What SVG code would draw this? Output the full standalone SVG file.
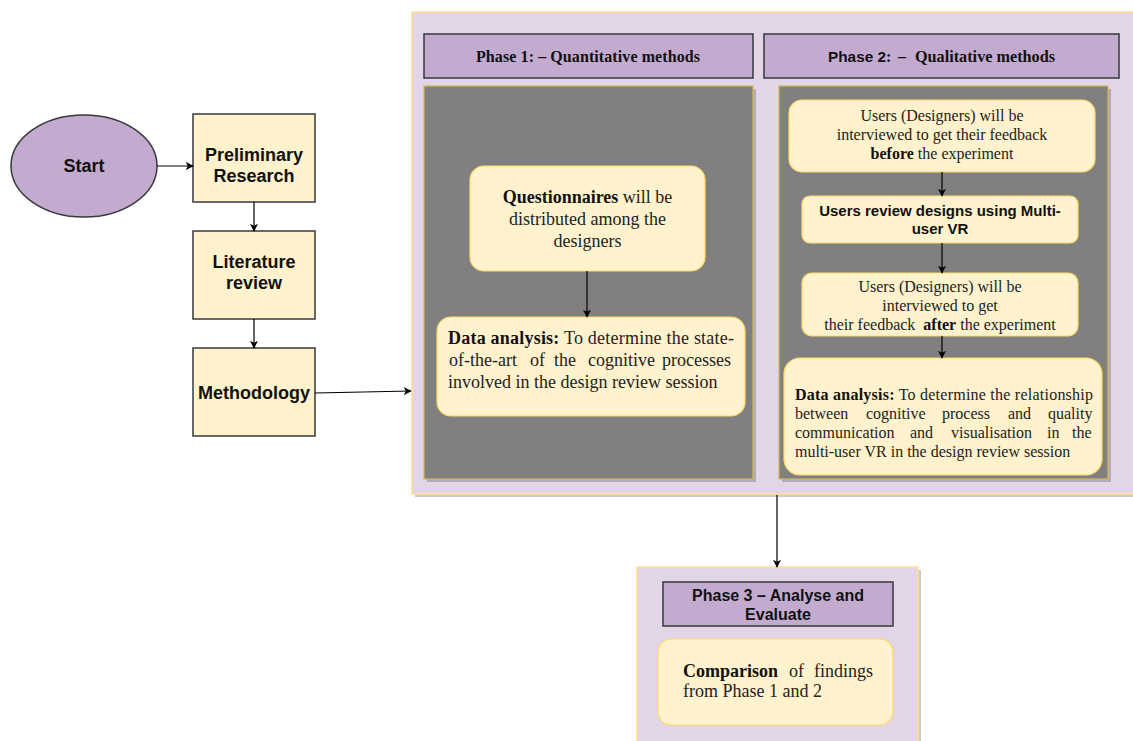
<svg xmlns="http://www.w3.org/2000/svg" width="1133" height="741" viewBox="0 0 1133 741">
<defs>
<marker id="arr" viewBox="0 0 10 10" refX="9" refY="5" markerWidth="8" markerHeight="8" markerUnits="userSpaceOnUse" orient="auto">
<path d="M0,0 L10,5 L0,10 L2.5,5 Z" fill="#000"/>
</marker>
<style>
.sans{font-family:"Liberation Sans",Arial,sans-serif;font-weight:bold;fill:#111;}
.serif{font-family:"Liberation Serif","Times New Roman",serif;fill:#222;}
.b{font-weight:bold;fill:#111;}
.step{fill:#FFF2CC;stroke:#36393d;stroke-width:1.5;}
.hdr{fill:#C3ABD0;stroke:#36393d;stroke-width:1.5;}
.outer{fill:#E1D5E7;stroke:#FFE08A;stroke-width:1.5;}
.panel{fill:#808080;stroke:#D6B656;stroke-width:1.2;}
.shadow{fill:#000;opacity:0.2;}
.note{fill:#FFF2CC;stroke:#FFD966;stroke-width:1.2;}
.conn{stroke:#000;stroke-width:1.2;fill:none;marker-end:url(#arr);}
</style>
</defs>
<rect width="1133" height="741" fill="#fff"/>

<g id="start">
<ellipse cx="84" cy="166" rx="73" ry="51" fill="#C3ABD0" stroke="#36393d" stroke-width="1.5"/>
<text class="sans" x="84" y="172" font-size="18" text-anchor="middle">Start</text>
</g>
<g id="preliminary">
<rect class="step" x="193" y="114" width="122" height="88"/>
<text class="sans" x="254" y="161" font-size="18" text-anchor="middle">Preliminary</text>
<text class="sans" x="254" y="182" font-size="18" text-anchor="middle">Research</text>
</g>
<g id="literature">
<rect class="step" x="193" y="231" width="122" height="88"/>
<text class="sans" x="254" y="268" font-size="18" text-anchor="middle">Literature</text>
<text class="sans" x="254" y="289" font-size="18" text-anchor="middle">review</text>
</g>
<g id="methodology">
<rect class="step" x="193" y="348" width="122" height="88"/>
<text class="sans" x="254" y="399" font-size="18" text-anchor="middle">Methodology</text>
</g>

<g id="phases12">
<rect class="shadow" x="415" y="15" width="730" height="482"/>
<rect class="outer" x="412" y="12" width="730" height="482"/>
</g>

<g id="phase1">
<rect class="hdr" x="424" y="34" width="329" height="44"/>
<text class="serif b" x="476" y="62" font-size="16" textLength="224" lengthAdjust="spacing">Phase 1: – Quantitative methods</text>
<rect class="shadow" x="427" y="89" width="329" height="393"/>
<rect class="panel" x="424" y="86" width="329" height="393"/>
</g>
<g id="questionnaires">
<rect class="note" x="470" y="166" width="235" height="105" rx="14"/>
<text class="serif" x="587.5" y="203" font-size="18" text-anchor="middle"><tspan class="b">Questionnaires</tspan> will be</text>
<text class="serif" x="587.5" y="225" font-size="18" text-anchor="middle">distributed among the</text>
<text class="serif" x="587.5" y="247" font-size="18" text-anchor="middle">designers</text>
</g>
<g id="analysis1">
<rect class="note" x="437" y="317" width="308" height="99" rx="14"/>
<text class="serif" x="448" y="344" font-size="18" textLength="286" lengthAdjust="spacing"><tspan class="b">Data analysis:</tspan> To determine the state-</text>
<text class="serif" y="366" font-size="18"><tspan x="449">of-the-art</tspan><tspan x="530">of</tspan><tspan x="554">the</tspan><tspan x="588">cognitive</tspan><tspan x="662">processes</tspan></text>
<text class="serif" x="448" y="388" font-size="18">involved in the design review session</text>
</g>

<g id="phase2">
<rect class="hdr" x="764" y="34" width="355" height="44"/>
<text x="828" y="62" font-size="15" font-family="'Liberation Sans', Arial, sans-serif" font-weight="bold" fill="#111" textLength="58" lengthAdjust="spacingAndGlyphs">Phase 2</text>
<text class="serif b" x="886" y="62" font-size="16">:</text>
<text class="serif b" x="898" y="62" font-size="16">–</text>
<text class="serif b" x="915" y="62" font-size="16" textLength="140" lengthAdjust="spacingAndGlyphs">Qualitative methods</text>
<rect class="shadow" x="782" y="89" width="329" height="393"/>
<rect class="panel" x="779" y="86" width="329" height="393"/>
</g>
<g id="interview-before">
<rect class="note" x="789" y="100" width="306" height="72" rx="13"/>
<text class="serif" x="942" y="121" font-size="16" text-anchor="middle">Users (Designers) will be</text>
<text class="serif" x="942" y="140" font-size="16" text-anchor="middle">interviewed to get their feedback</text>
<text class="serif" x="942" y="159" font-size="16" text-anchor="middle"><tspan class="b">before</tspan> the experiment</text>
</g>
<g id="review-vr">
<rect class="note" x="802" y="196" width="276" height="47" rx="8"/>
<text class="sans" x="940" y="216" font-size="15" text-anchor="middle">Users review designs using Multi-</text>
<text class="sans" x="940" y="234" font-size="15" text-anchor="middle">user VR</text>
</g>
<g id="interview-after">
<rect class="note" x="802" y="273" width="276" height="63" rx="10"/>
<text class="serif" x="940" y="292" font-size="16" text-anchor="middle">Users (Designers) will be</text>
<text class="serif" x="940" y="311" font-size="16" text-anchor="middle">interviewed to get</text>
<text class="serif" x="940" y="330" font-size="16" text-anchor="middle">their feedback&#160; <tspan class="b">after</tspan> the experiment</text>
</g>
<g id="analysis2">
<rect class="note" x="784" y="358" width="318" height="117" rx="16"/>
<text class="serif" x="795" y="400" font-size="16" textLength="298" lengthAdjust="spacing"><tspan class="b">Data analysis:</tspan> To determine the relationship</text>
<text class="serif" y="419" font-size="16"><tspan x="795">between</tspan><tspan x="866">cognitive</tspan><tspan x="942">process</tspan><tspan x="1008">and</tspan><tspan x="1048">quality</tspan></text>
<text class="serif" y="438" font-size="16"><tspan x="795">communication</tspan><tspan x="910">and</tspan><tspan x="951">visualisation</tspan><tspan x="1047">in</tspan><tspan x="1072">the</tspan></text>
<text class="serif" x="795" y="457" font-size="16">multi-user VR in the design review session</text>
</g>

<g id="phase3">
<rect class="shadow" x="640" y="570" width="281" height="180"/>
<rect class="outer" x="637" y="567" width="281" height="180"/>
<rect class="hdr" x="663" y="582" width="230" height="44"/>
<text class="sans" x="778" y="601" font-size="16" text-anchor="middle">Phase 3 – Analyse and</text>
<text class="sans" x="778" y="620" font-size="16" text-anchor="middle">Evaluate</text>
</g>
<g id="comparison">
<rect class="note" x="658" y="639" width="235" height="86" rx="13"/>
<text class="serif" y="677" font-size="18"><tspan x="683" class="b">Comparison</tspan><tspan x="789">of</tspan><tspan x="814">findings</tspan></text>
<text class="serif" x="683" y="697" font-size="18">from Phase 1 and 2</text>
</g>

<g id="connectors">
<path class="conn" d="M157,166 L193,166"/>
<path class="conn" d="M254,202 L254,231"/>
<path class="conn" d="M254,319 L254,348"/>
<path class="conn" d="M315,393 L411,391"/>
<path class="conn" d="M587,271 L587,317"/>
<path class="conn" d="M942,172 L942,196"/>
<path class="conn" d="M942,243 L942,273"/>
<path class="conn" d="M942,336 L942,358"/>
<path class="conn" d="M777,495 L777,567"/>
</g>
</svg>
